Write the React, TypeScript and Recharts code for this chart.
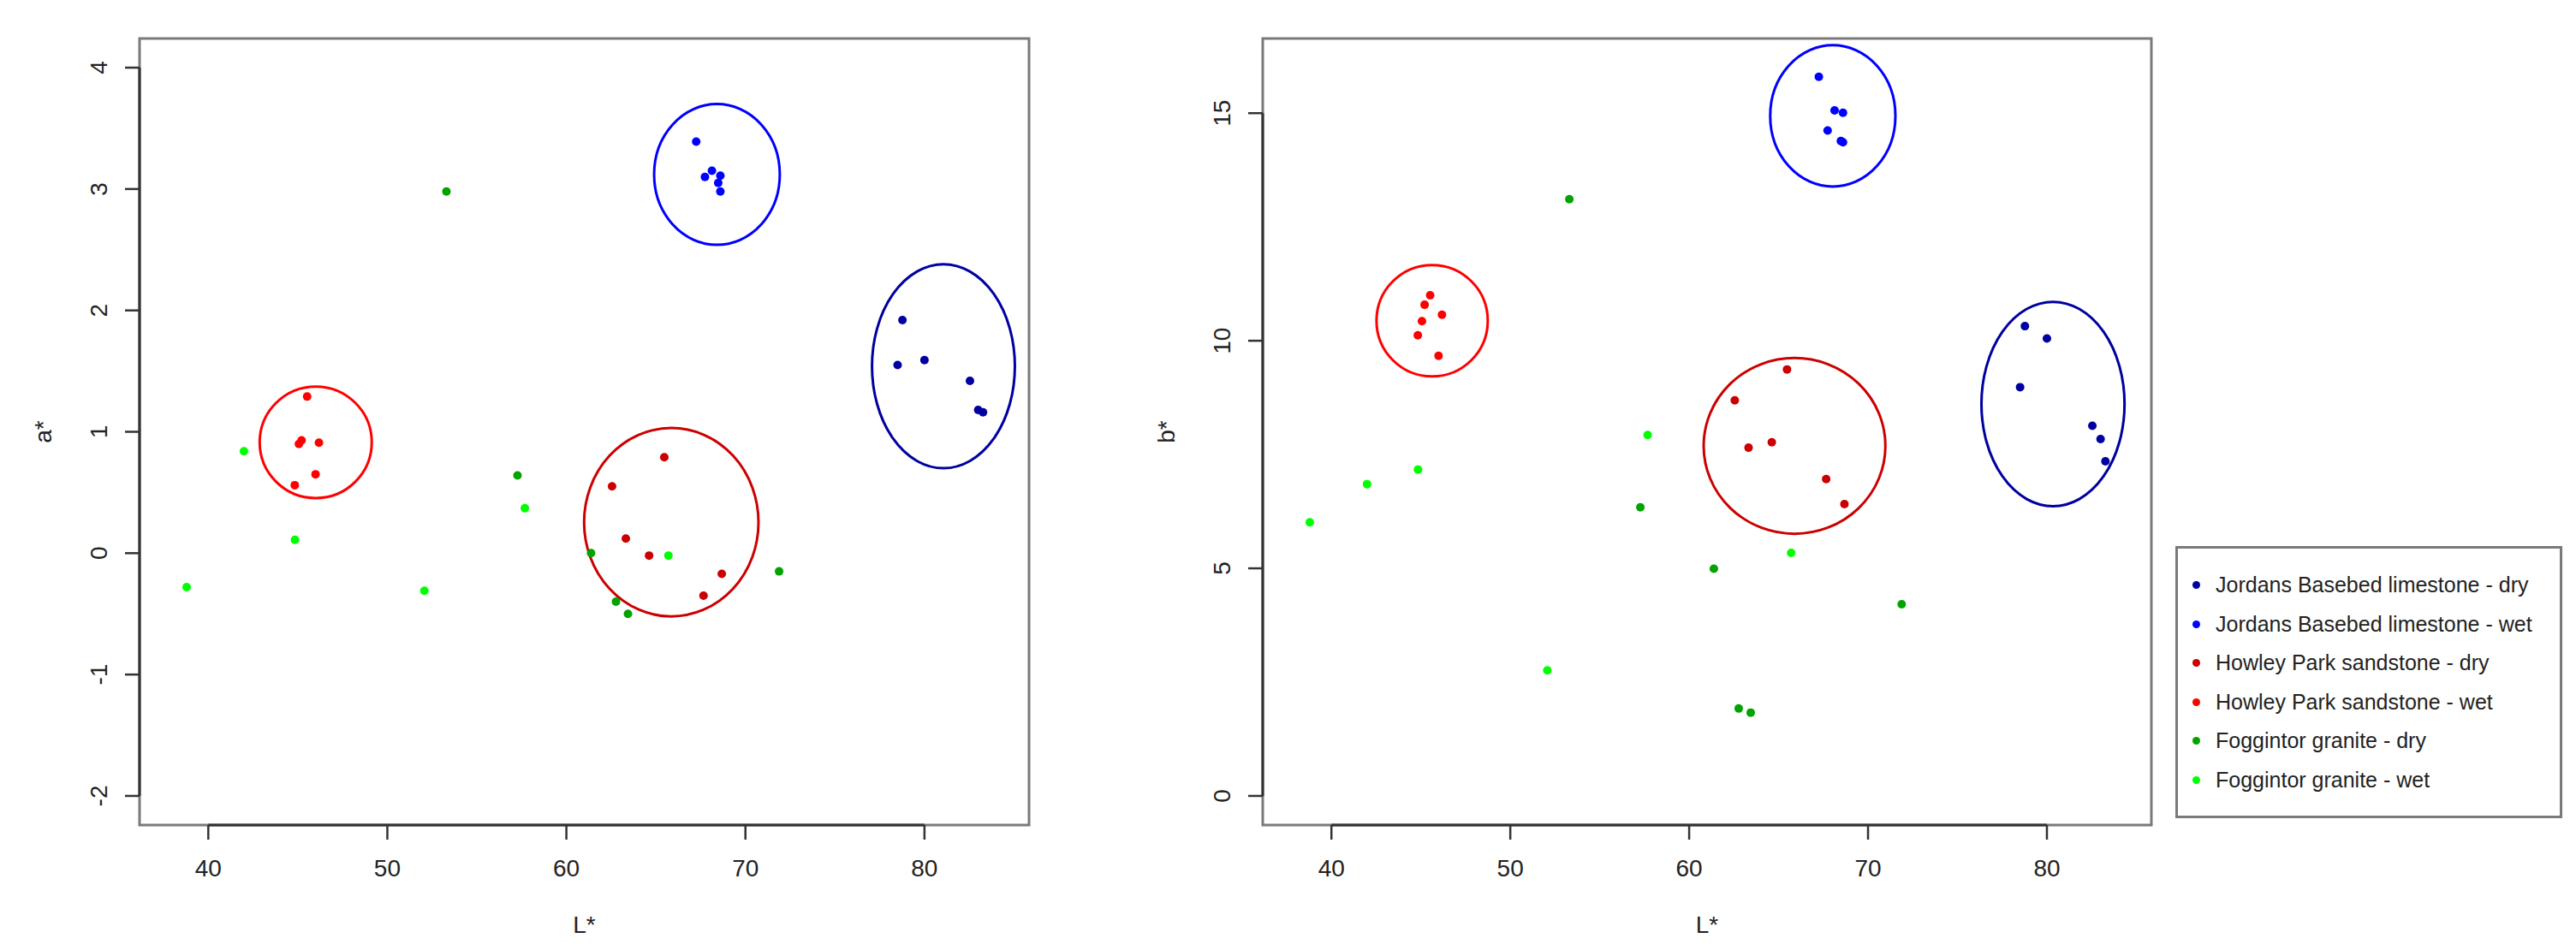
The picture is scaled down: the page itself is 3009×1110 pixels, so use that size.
import React from 'react';
import {
  ScatterChart,
  Scatter,
  XAxis,
  YAxis,
  ReferenceArea,
  ReferenceLine,
  Legend,
} from 'recharts';

// series names and colours (legend order)
const categories = [
  'Jordans Basebed limestone - dry',
  'Jordans Basebed limestone - wet',
  'Howley Park sandstone - dry',
  'Howley Park sandstone - wet',
  'Foggintor granite - dry',
  'Foggintor granite - wet',
];
const colors = ['#0000A0', '#0000FF', '#CC0000', '#FF0000', '#00A300', '#00FF00'];

// L* values, shared by both panels
const jordansDryL = [78.77, 78.5, 80.0, 82.54, 83.0, 83.27];
const jordansWetL = [67.25, 67.74, 68.13, 68.6, 68.48, 68.6];
const howleyDryL = [65.47, 62.55, 63.32, 64.62, 68.68, 67.66];
const howleyWetL = [45.52, 45.21, 45.06, 46.18, 45.99, 44.83];
const foggDryL = [53.3, 57.27, 61.38, 62.77, 63.44, 71.88];
const foggWetL = [38.79, 41.99, 44.84, 52.07, 57.68, 65.7];

// a* values
const jordansDryA = [1.92, 1.55, 1.59, 1.42, 1.18, 1.16];
const jordansWetA = [3.39, 3.1, 3.15, 3.11, 3.05, 2.98];
const howleyDryA = [0.79, 0.55, 0.12, -0.02, -0.17, -0.35];
const howleyWetA = [1.29, 0.93, 0.9, 0.91, 0.65, 0.56];
const foggDryA = [2.98, 0.64, 0.0, -0.4, -0.5, -0.15];
const foggWetA = [-0.28, 0.84, 0.11, -0.31, 0.37, -0.02];

// b* values
const jordansDryB = [10.32, 8.98, 10.05, 8.13, 7.84, 7.35];
const jordansWetB = [15.8, 14.62, 15.06, 15.01, 14.39, 14.36];
const howleyDryB = [9.37, 8.69, 7.65, 7.77, 6.41, 6.96];
const howleyWetB = [11.0, 10.79, 10.43, 10.57, 9.67, 10.12];
const foggDryB = [13.11, 6.34, 4.99, 1.92, 1.83, 4.21];
const foggWetB = [6.01, 6.85, 7.17, 2.76, 7.93, 5.34];

// group ellipses: [centre L, centre value, half-width L, half-height value]
// order: jordans dry, jordans wet, howley dry, howley wet
const ellipsesA = [
  [81.06, 1.54, 3.99, 0.84],
  [68.41, 3.12, 3.51, 0.58],
  [65.86, 0.255, 4.87, 0.776],
  [46.0, 0.913, 3.13, 0.459],
];
const ellipsesB = [
  [80.34, 8.61, 4.0, 2.245],
  [68.03, 14.94, 3.5, 1.552],
  [65.89, 7.69, 5.08, 1.93],
  [45.63, 10.44, 3.11, 1.223],
];

const xTicks = [40, 50, 60, 70, 80];
const xDomain = [36.16, 85.84];
const aTicks = [-2, -1, 0, 1, 2, 3, 4];
const aDomain = [-2.24, 4.24];
const bTicks = [0, 5, 10, 15];
const bDomain = [-0.64, 16.64];

const allL = [jordansDryL, jordansWetL, howleyDryL, howleyWetL, foggDryL, foggWetL];
const allA = [jordansDryA, jordansWetA, howleyDryA, howleyWetA, foggDryA, foggWetA];
const allB = [jordansDryB, jordansWetB, howleyDryB, howleyWetB, foggDryB, foggWetB];

const FONT = '"Liberation Sans", Arial, Helvetica, sans-serif';
const TEXT = '#222';
const BOX = '#7a7a7a';
const AXIS = '#333';

const toPoints = (ls: number[], vs: number[]) => ls.map((L, i) => ({ L, v: vs[i] }));

const RotatedTick = (props: any) => {
  const { x, y, payload } = props;
  return (
    <text
      x={x}
      y={y}
      transform={`rotate(-90, ${x}, ${y})`}
      textAnchor="middle"
      fontSize={28}
      fill={TEXT}
      fontFamily={FONT}
    >
      {payload.value}
    </text>
  );
};

const yTitle = (title: string) => (p: any) => {
  const vb = p.viewBox || {};
  const x = vb.x + vb.width - 103;
  const y = vb.y + vb.height / 2;
  return (
    <text
      x={x}
      y={y}
      transform={`rotate(-90, ${x}, ${y})`}
      textAnchor="middle"
      fontSize={28}
      fill={TEXT}
      fontFamily={FONT}
    >
      {title}
    </text>
  );
};

const ellipseShape = (color: string) => (p: any) => (
  <ellipse
    cx={p.x + p.width / 2}
    cy={p.y + p.height / 2}
    rx={Math.abs(p.width) / 2}
    ry={Math.abs(p.height) / 2}
    fill="none"
    stroke={color}
    strokeWidth={3}
  />
);

const LegendBox = () => (
  <div
    style={{
      boxSizing: 'border-box',
      width: 452,
      height: 318,
      border: `3px solid ${BOX}`,
      background: '#fff',
      paddingTop: 20,
      fontFamily: FONT,
    }}
  >
    {categories.map((name, i) => (
      <div key={name} style={{ display: 'flex', alignItems: 'center', height: 45.5 }}>
        <span
          style={{
            display: 'inline-block',
            width: 9,
            height: 9,
            borderRadius: '50%',
            background: colors[i],
            marginLeft: 17,
            marginRight: 18,
          }}
        />
        <span style={{ fontSize: 25, color: TEXT, whiteSpace: 'nowrap' }}>{name}</span>
      </div>
    ))}
  </div>
);

function Panel(props: {
  width: number;
  right: number;
  yAxisWidth: number;
  values: number[][];
  ellipses: number[][];
  yTicks: number[];
  yDomain: number[];
  yLabel: string;
  legend?: boolean;
}) {
  const { width, right, yAxisWidth, values, ellipses, yTicks, yDomain, yLabel, legend } = props;
  return (
    <ScatterChart
      width={width}
      height={1110}
      margin={{ top: 45, right, bottom: 0, left: 0 }}
      style={{ fontFamily: FONT }}
    >
      <XAxis
        type="number"
        dataKey="L"
        domain={xDomain}
        ticks={xTicks}
        allowDataOverflow
        height={146}
        axisLine={false}
        tickSize={17}
        tickMargin={23}
        tickLine={{ stroke: AXIS, strokeWidth: 2.5 }}
        tick={{ fontSize: 28, fill: TEXT, fontFamily: FONT }}
        label={{ value: 'L*', position: 'insideBottom', offset: 20, fontSize: 28, fill: TEXT }}
      />
      <YAxis
        type="number"
        dataKey="v"
        domain={yDomain}
        ticks={yTicks}
        allowDataOverflow
        width={yAxisWidth}
        axisLine={false}
        tickSize={17}
        tickMargin={21}
        tickLine={{ stroke: AXIS, strokeWidth: 2.5 }}
        tick={<RotatedTick />}
        label={{ content: yTitle(yLabel) }}
      />
      <ReferenceArea
        x1={xDomain[0]}
        x2={xDomain[1]}
        y1={yDomain[0]}
        y2={yDomain[1]}
        fill="none"
        stroke={BOX}
        strokeWidth={3}
        ifOverflow="visible"
      />
      <ReferenceLine
        segment={[
          { x: xTicks[0], y: yDomain[0] },
          { x: xTicks[xTicks.length - 1], y: yDomain[0] },
        ]}
        stroke={AXIS}
        strokeWidth={3}
        ifOverflow="visible"
      />
      <ReferenceLine
        segment={[
          { x: xDomain[0], y: yTicks[0] },
          { x: xDomain[0], y: yTicks[yTicks.length - 1] },
        ]}
        stroke={AXIS}
        strokeWidth={3}
        ifOverflow="visible"
      />
      {categories.map((name, i) => (
        <Scatter
          key={name}
          name={name}
          data={toPoints(allL[i], values[i])}
          fill={colors[i]}
          isAnimationActive={false}
          shape={(p: any) => <circle cx={p.cx} cy={p.cy} r={5} fill={colors[i]} />}
        />
      ))}
      {ellipses.map((e, i) => (
        <ReferenceArea
          key={`ell-${i}`}
          x1={e[0] - e[2]}
          x2={e[0] + e[2]}
          y1={e[1] - e[3]}
          y2={e[1] + e[3]}
          ifOverflow="visible"
          shape={ellipseShape(colors[i])}
        />
      ))}
      {legend && (
        <Legend
          layout="vertical"
          align="center"
          verticalAlign="middle"
          wrapperStyle={{ left: 1311, top: 638, width: 452, height: 318 }}
          content={() => <LegendBox />}
        />
      )}
    </ScatterChart>
  );
}

export default function App() {
  return (
    <div
      style={{
        position: 'absolute',
        left: 0,
        top: 0,
        width: 3009,
        height: 1110,
        background: '#fff',
        fontFamily: FONT,
      }}
    >
      <div style={{ position: 'absolute', left: 0, top: 0 }}>
        <Panel
          width={1230}
          right={28}
          yAxisWidth={163}
          values={allA}
          ellipses={ellipsesA}
          yTicks={aTicks}
          yDomain={aDomain}
          yLabel="a*"
        />
      </div>
      <div style={{ position: 'absolute', left: 1230, top: 0 }}>
        <Panel
          width={1779}
          right={496}
          yAxisWidth={245}
          values={allB}
          ellipses={ellipsesB}
          yTicks={bTicks}
          yDomain={bDomain}
          yLabel="b*"
          legend
        />
      </div>
    </div>
  );
}
